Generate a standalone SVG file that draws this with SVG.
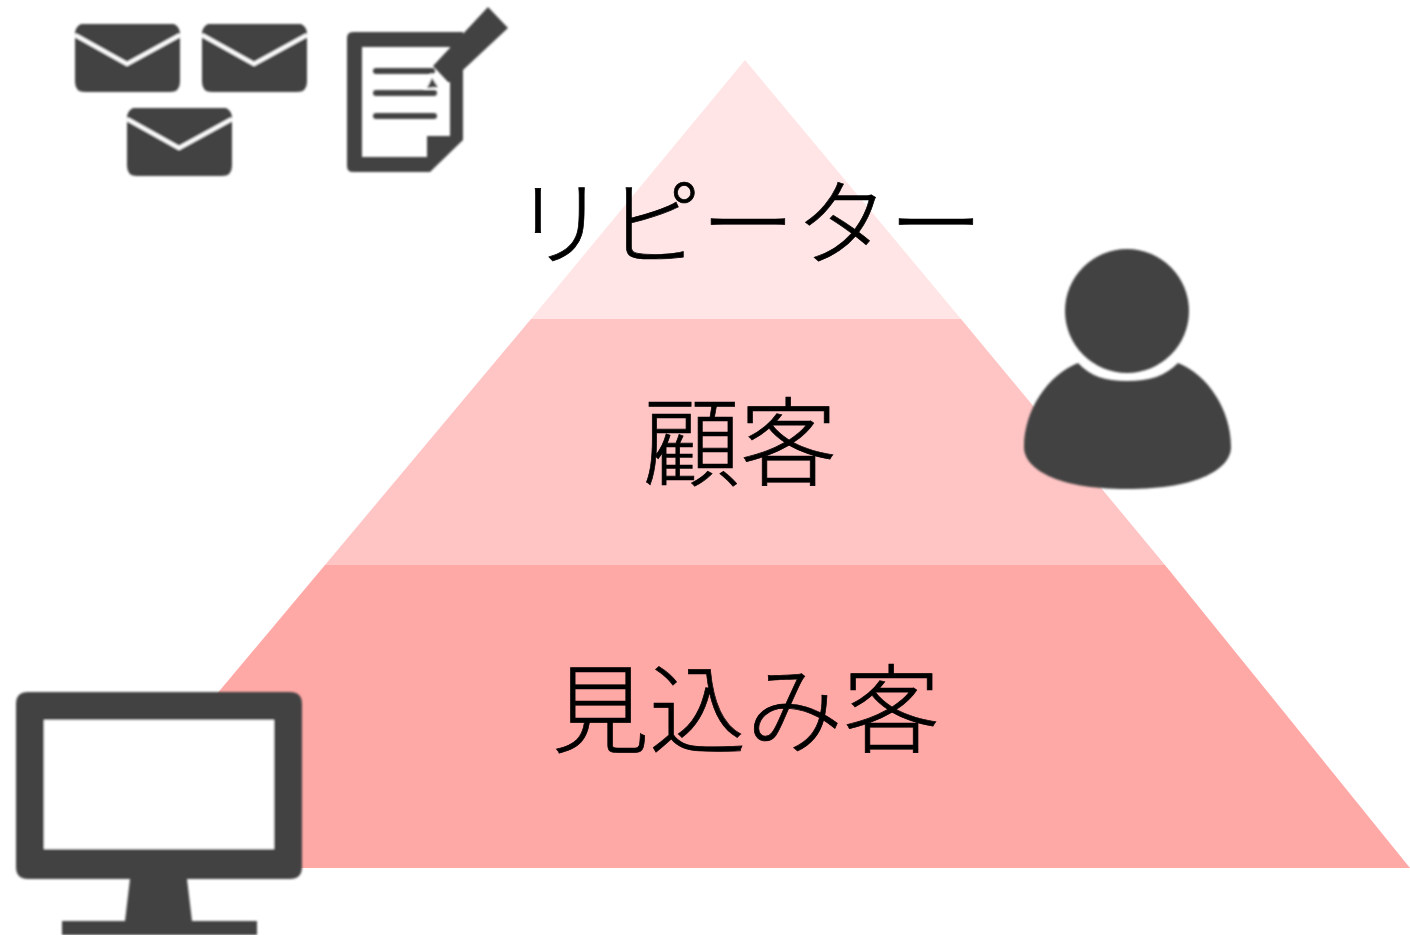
<svg xmlns="http://www.w3.org/2000/svg" width="1410" height="935" viewBox="0 0 1410 935">
<style>
.t{font-family:"Noto Sans CJK JP","Noto Sans CJK SC",sans-serif;font-size:97px;font-weight:300;fill:#000;stroke:#000;stroke-width:.7;text-anchor:middle}
.i{fill:#434343}
.l{fill:none;stroke:#fff;stroke-width:4}
.d{stroke:#434343;stroke-width:6;stroke-linecap:round}
.b{filter:url(#soft)}
</style>
<defs>
<filter id="soft" x="-5%" y="-5%" width="110%" height="110%"><feGaussianBlur stdDeviation="0.8"/></filter>
<g id="env"><path class="i" d="M6 0H99Q105 3 105 10V58Q105 68 95 68H10Q0 68 0 58V10Q0 3 6 0Z"/><path class="l" d="M0 11L52 40L105 11"/></g>
<clipPath id="c3"><rect x="120" y="100" width="120" height="76"/></clipPath>
</defs>
<rect width="1410" height="935" fill="#fff"/>
<g id="tier-repeater"><path d="M745 60L961 319H531Z" fill="#FFE5E5"/><text class="t" x="748" y="258" style="font-size:94px">リピーター</text></g>
<g id="tier-customer"><path d="M531 319H961L1165 565H325Z" fill="#FFC5C5"/><text class="t" x="740" y="478">顧客</text></g>
<g id="tier-prospect"><path d="M325 565H1165L1410 868H71Z" fill="#FFA9A7"/><text class="t" x="746" y="745">見込み客</text></g>
<g id="mail-icon" class="b"><use href="#env" x="75" y="24"/><use href="#env" x="202" y="24"/><g clip-path="url(#c3)"><use href="#env" x="127" y="108"/></g></g>
<g id="doc-icon" class="b">
<path class="i" fill-rule="evenodd" d="M353 32H463V140L430 172H353Q347 172 347 166V38Q347 32 353 32ZM362 47V157H427V136H450V47Z"/>
<path class="i" d="M488 7L508 28L463 70V84L448 82L433 66Z"/>
<path class="d" d="M376 71H432M376 93H434M376 116H434"/>
<path d="M424 89L431 73L447 86L436 85L434 89Z" fill="#fff"/>
<path class="i" d="M427 88L432 78L438 87Z"/>
</g>
<g id="person-icon" class="b"><circle class="i" cx="1127" cy="311" r="62"/>
<path class="i" d="M1078 363C1090 376 1105 381 1127 381C1150 381 1165 376 1178 363C1208 375 1231 410 1231 447C1231 468 1200 489 1127 489C1055 489 1024 468 1024 447C1024 410 1048 375 1078 363Z"/></g>
<g id="monitor-icon" class="b"><rect x="44" y="720" width="230" height="129" fill="#fff"/><path class="i" fill-rule="evenodd" d="M28 692H290Q302 692 302 704V867Q302 879 290 879H187L192 921H257V935H62V921H125L130 879H28Q16 879 16 867V704Q16 692 28 692ZM44 720V849H274V720Z"/></g>
</svg>
